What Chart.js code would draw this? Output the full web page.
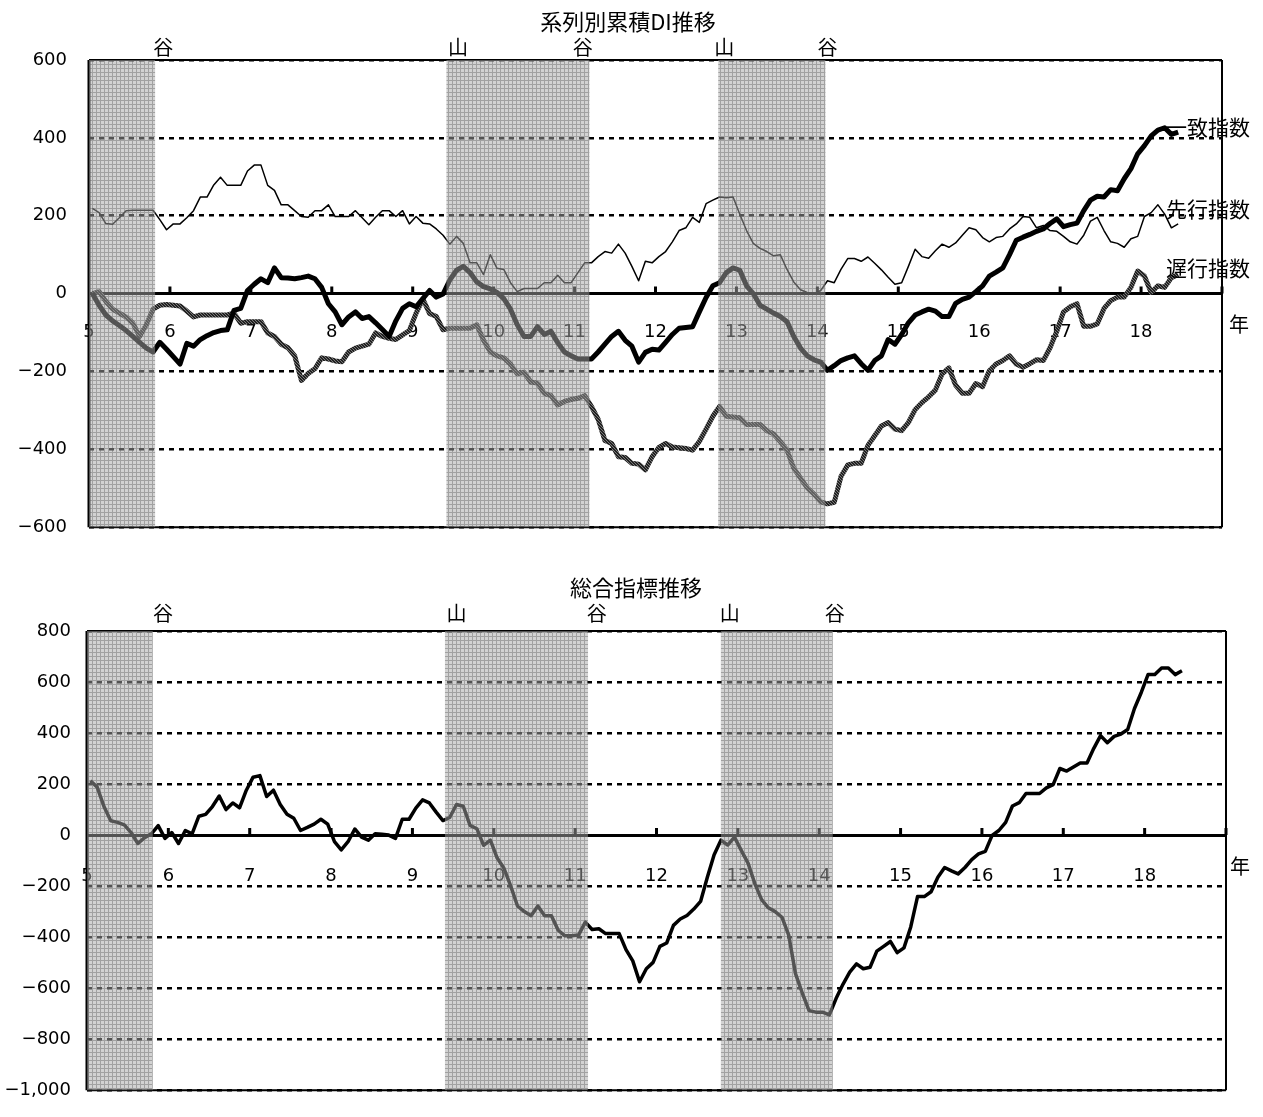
<!DOCTYPE html>
<html lang="ja">
<head>
<meta charset="UTF-8">
<title>系列別累積DI推移・総合指標推移</title>
<script src="https://cdn.jsdelivr.net/npm/chart.js@4.4.1/dist/chart.umd.min.js"></script>
<style>
  body { margin: 0; background: #fff; }
  #wrap { position: relative; width: 1263px; height: 1117px; }
  canvas { position: absolute; left: 0; }
  #topChart { top: 0; }
  #bottomChart { top: 560px; }
</style>
</head>
<body>
<div id="wrap">
  <canvas id="topChart" width="1263" height="560"></canvas>
  <canvas id="bottomChart" width="1263" height="557"></canvas>
</div>
<script>
// 年（平成）ラベル、月次データは5年1月から18年6月まで
const yearLabels = ['5','6','7','8','9','10','11','12','13','14','15','16','17','18'];

// 系列別累積DI
const senkou = [
  219, 208, 180, 178, 195, 213, 214, 214, 214, 214, 190, 164,
  179, 179, 195, 213, 248, 248, 279, 299, 278, 278, 278, 315,
  330, 330, 278, 265, 228, 228, 213, 198, 196, 213, 213, 228,
  198, 198, 198, 213, 195, 177, 196, 213, 213, 198, 213, 179,
  198, 181, 179, 166, 150, 127, 147, 129, 79, 79, 49, 100,
  65, 62, 28, 5, 13, 13, 13, 28, 28, 47, 28, 28,
  54, 79, 79, 95, 108, 104, 127, 104, 70, 33, 83, 79,
  95, 108, 133, 162, 169, 196, 183, 231, 240, 248, 246, 248,
  204, 162, 129, 116, 108, 97, 100, 62, 30, 10, 3, 0,
  8, 33, 28, 62, 90, 90, 83, 94, 78, 61, 42, 24,
  28, 70, 114, 95, 91, 110, 127, 119, 130, 150, 169, 164,
  144, 133, 144, 147, 166, 179, 198, 196, 169, 175, 162, 160,
  147, 133, 127, 150, 186, 196, 162, 133, 129, 119, 141, 147,
  198, 208, 228, 204, 169, 179
];
const itchi = [
  0, -30, -55, -70, -82, -95, -110, -125, -140, -150, -125, -143,
  -162, -181, -128, -135, -118, -108, -100, -95, -93, -43, -38, 8,
  24, 38, 28, 66, 41, 40, 38, 41, 45, 38, 16, -26,
  -47, -80, -60, -47, -64, -59, -75, -92, -110, -70, -38, -26,
  -34, -13, 8, -9, -1, 35, 60, 70, 54, 30, 18, 12,
  3, -13, -40, -80, -110, -110, -85, -105, -97, -126, -150, -160,
  -168, -168, -168, -150, -130, -110, -97, -120, -135, -176, -151, -143,
  -145, -125, -105, -89, -87, -85, -47, -10, 20, 28, 54, 66,
  60, 20, 0, -30, -40, -50, -59, -72, -110, -140, -160, -170,
  -176, -197, -185, -172, -165, -160, -180, -197, -172, -160, -118, -130,
  -105, -75, -55, -47, -40, -45, -59, -59, -25, -15, -9, 5,
  20, 45, 55, 66, 100, 137, 145, 152, 160, 166, 180, 192,
  172, 177, 181, 213, 240, 250, 248, 267, 264, 295, 321, 359,
  380, 405, 420, 426, 409, 415
];
const chikou = [
  0, 5, -20, -40, -50, -60, -76, -110, -80, -40, -30, -28,
  -30, -32, -45, -60, -55, -55, -55, -55, -55, -50, -76, -72,
  -72, -72, -101, -110, -130, -139, -160, -223, -205, -193, -165, -168,
  -173, -175, -150, -140, -135, -130, -101, -110, -115, -118, -106, -95,
  -50, -14, -51, -59, -93, -89, -89, -89, -89, -80, -120, -150,
  -160, -165, -181, -206, -202, -227, -230, -256, -262, -286, -277, -272,
  -269, -262, -290, -323, -377, -385, -419, -421, -436, -438, -453, -419,
  -395, -385, -394, -396, -398, -402, -380, -348, -315, -290, -315, -317,
  -319, -336, -336, -336, -352, -360, -380, -402, -448, -474, -499, -515,
  -535, -540, -536, -470, -440, -436, -436, -390, -365, -340, -331, -348,
  -352, -331, -298, -280, -265, -248, -206, -191, -235, -256, -256, -231,
  -239, -198, -181, -172, -160, -181, -189, -180, -170, -172, -139, -97,
  -47, -34, -26, -84, -84, -78, -38, -18, -9, -9, 16, 58,
  45, 3, 20, 16, 41, 49
];

// 総合指標
const sougou = [
  213, 188, 112, 56, 50, 40, 10, -33, -10, 5, 37, -13,
  10, -33, 18, 5, 74, 81, 112, 153, 100, 126, 107, 176,
  227, 233, 151, 176, 120, 82, 66, 18, 30, 43, 62, 43,
  -26, -58, -26, 24, -8, -20, 5, 3, 0, -13, 62, 62,
  106, 138, 126, 90, 57, 69, 120, 113, 38, 25, -40, -20,
  -90, -130, -200, -278, -300, -316, -278, -316, -316, -373, -395, -395,
  -392, -341, -370, -367, -386, -386, -386, -449, -493, -575, -524, -499,
  -436, -423, -354, -329, -315, -290, -260, -165, -77, -20, -39, -8,
  -60, -110, -190, -253, -285, -300, -322, -392, -543, -619, -688, -694,
  -694, -705, -640, -585, -537, -505, -524, -518, -455, -436, -417, -461,
  -442, -360, -241, -241, -222, -165, -127, -140, -152, -127, -96, -74,
  -64, -1, 18, 50, 114, 127, 163, 163, 163, 185, 198, 261,
  251, 267, 283, 283, 340, 390, 362, 387, 396, 414, 496, 559,
  629, 629, 655, 655, 629, 644
];

// 景気後退期（月単位の開始・終了）と山・谷
const topBands = [[0, 9.8], [53.0, 74.2], [93.3, 109.2]];
const bottomBands = [[0, 9.7], [52.8, 73.9], [93.5, 110.0]];
const markText = ['谷', '山', '谷', '山', '谷'];
const topMarkAt = [11.0, 54.7, 73.2, 94.2, 109.5];
const bottomMarkAt = [11.2, 54.5, 75.2, 94.8, 110.3];

const NUM_FONT = 'DejaVu Sans';
const JP_FONT = '"Noto Sans CJK JP"';

function toPoints(arr) {
  return arr.map((v, i) => ({ x: i + 0.5, y: v }));
}

function fmtTick(v) {
  return (v < 0 ? '\u2212' : '') + Math.abs(v).toLocaleString('en-US');
}

// 網掛けパターン
function makeBandPattern() {
  const c = document.createElement('canvas');
  c.width = 4; c.height = 4;
  const g = c.getContext('2d');
  g.fillStyle = 'rgba(165,165,165,0.5)';
  g.fillRect(0, 0, 4, 4);
  g.fillStyle = 'rgba(90,90,90,0.4)';
  g.fillRect(0, 0, 4, 1);
  g.fillRect(0, 1, 1, 3);
  return g.createPattern(c, 'repeat');
}

function makeHatch() {
  const c = document.createElement('canvas');
  c.width = 3; c.height = 3;
  const g = c.getContext('2d');
  g.fillStyle = '#222';
  g.fillRect(0, 0, 3, 3);
  g.fillStyle = '#7a7a7a';
  g.fillRect(1, 0, 1, 1);
  g.fillRect(2, 1, 1, 1);
  g.fillRect(0, 2, 1, 1);
  return g.createPattern(c, 'repeat');
}

const bandPattern = makeBandPattern();
const hatch = makeHatch();

const decoPlugin = {
  id: 'deco',
  beforeDatasetsDraw(chart, args, o) {
    const { ctx, chartArea: a, scales: { x, y } } = chart;
    ctx.save();
    ctx.strokeStyle = '#000';
    ctx.lineWidth = 2;
    ctx.beginPath();
    ctx.moveTo(a.left, a.top); ctx.lineTo(a.right, a.top);
    ctx.moveTo(a.left, a.bottom); ctx.lineTo(a.right, a.bottom);
    ctx.moveTo(a.right, a.top); ctx.lineTo(a.right, a.bottom);
    ctx.stroke();
    ctx.lineWidth = 3;
    ctx.beginPath();
    ctx.moveTo(a.left, a.top); ctx.lineTo(a.left, a.bottom);
    ctx.stroke();
    // 年の目盛（上向き）
    const y0 = y.getPixelForValue(0);
    ctx.beginPath();
    for (let v = 12; v <= 168; v += 12) {
      const px = x.getPixelForValue(v);
      ctx.moveTo(px, y0);
      ctx.lineTo(px, y0 - 7);
    }
    ctx.stroke();
    ctx.restore();
  },
  afterDatasetsDraw(chart, args, o) {
    const { ctx, chartArea: a, scales: { x } } = chart;
    ctx.save();
    ctx.fillStyle = bandPattern;
    o.bands.forEach(([s, e]) => {
      const x1 = x.getPixelForValue(s);
      const x2 = x.getPixelForValue(e);
      ctx.fillRect(x1, a.top, x2 - x1, a.bottom - a.top);
    });
    ctx.restore();
  },
  afterDraw(chart, args, o) {
    const { ctx, chartArea: a, scales: { x, y } } = chart;
    ctx.save();
    ctx.fillStyle = '#000';
    ctx.textAlign = 'center';
    ctx.textBaseline = 'middle';
    ctx.font = '22px ' + JP_FONT;
    ctx.fillText(o.title, o.titleX, o.titleY);
    ctx.font = '20px ' + JP_FONT;
    markText.forEach((t, i) => {
      ctx.fillText(t, x.getPixelForValue(o.markAt[i]), a.top - o.markGap);
    });
    ctx.fillText('年', a.right + o.nenDx, y.getPixelForValue(0) + 31);
    ctx.textAlign = 'left';
    ctx.font = '21px ' + JP_FONT;
    (o.seriesLabels || []).forEach(l => {
      ctx.fillText(l.text, x.getPixelForValue(l.x), y.getPixelForValue(l.y));
    });
    ctx.restore();
  }
};

function buildChart(id, datasets, p) {
  return new Chart(document.getElementById(id), {
    type: 'line',
    data: { datasets: datasets },
    plugins: [decoPlugin],
    options: {
      responsive: false,
      animation: false,
      events: [],
      layout: { padding: { top: p.top, right: p.right, bottom: p.bottom, left: 0 } },
      elements: { point: { radius: 0 }, line: { tension: 0, borderJoinStyle: 'round' } },
      plugins: {
        legend: { display: false },
        tooltip: { enabled: false },
        deco: p.deco
      },
      scales: {
        x: {
          type: 'linear',
          min: 0,
          max: 168,
          offset: false,
          position: { y: 0 },
          ticks: {
            stepSize: 12,
            autoSkip: false,
            maxRotation: 0,
            padding: p.xPad,
            color: '#000',
            font: { family: NUM_FONT, size: 18 },
            callback: v => yearLabels[v / 12] ?? ''
          },
          grid: { display: true, drawOnChartArea: false, drawTicks: false },
          border: { display: true, color: '#000', width: 3 }
        },
        y: {
          min: p.yMin,
          max: p.yMax,
          ticks: {
            stepSize: 200,
            padding: p.yPad,
            color: '#000',
            font: { family: NUM_FONT, size: 18 },
            callback: fmtTick
          },
          grid: { color: '#000', lineWidth: 2.5, drawTicks: false },
          border: { display: false, dash: [5, 5] },
          afterFit: s => { s.width = p.axisW; }
        }
      }
    }
  });
}

buildChart('topChart', [
  { label: '一致指数', data: toPoints(itchi), borderColor: '#000', borderWidth: 5 },
  { label: '遅行指数', data: toPoints(chikou), borderColor: hatch, borderWidth: 5 },
  { label: '先行指数', data: toPoints(senkou), borderColor: '#000', borderWidth: 1.5 }
], {
  top: 60, right: 41, bottom: 22, axisW: 89, yPad: 22, xPad: 28,
  yMin: -600, yMax: 600,
  deco: {
    bands: topBands, markAt: topMarkAt, markGap: 13, nenDx: 17,
    title: '系列別累積DI推移', titleX: 628, titleY: 22,
    seriesLabels: [
      { text: '一致指数', x: 159.7, y: 429 },
      { text: '先行指数', x: 159.7, y: 218 },
      { text: '遅行指数', x: 159.7, y: 65 }
    ]
  }
});

buildChart('bottomChart', [
  { label: '総合指標', data: toPoints(sougou), borderColor: '#000', borderWidth: 3.5 }
], {
  top: 71, right: 37, bottom: 10, axisW: 87, yPad: 16, xPad: 30,
  yMin: -1000, yMax: 800,
  deco: {
    bands: bottomBands, markAt: bottomMarkAt, markGap: 18, nenDx: 14,
    title: '総合指標推移', titleX: 636, titleY: 28
  }
});
</script>
</body>
</html>
